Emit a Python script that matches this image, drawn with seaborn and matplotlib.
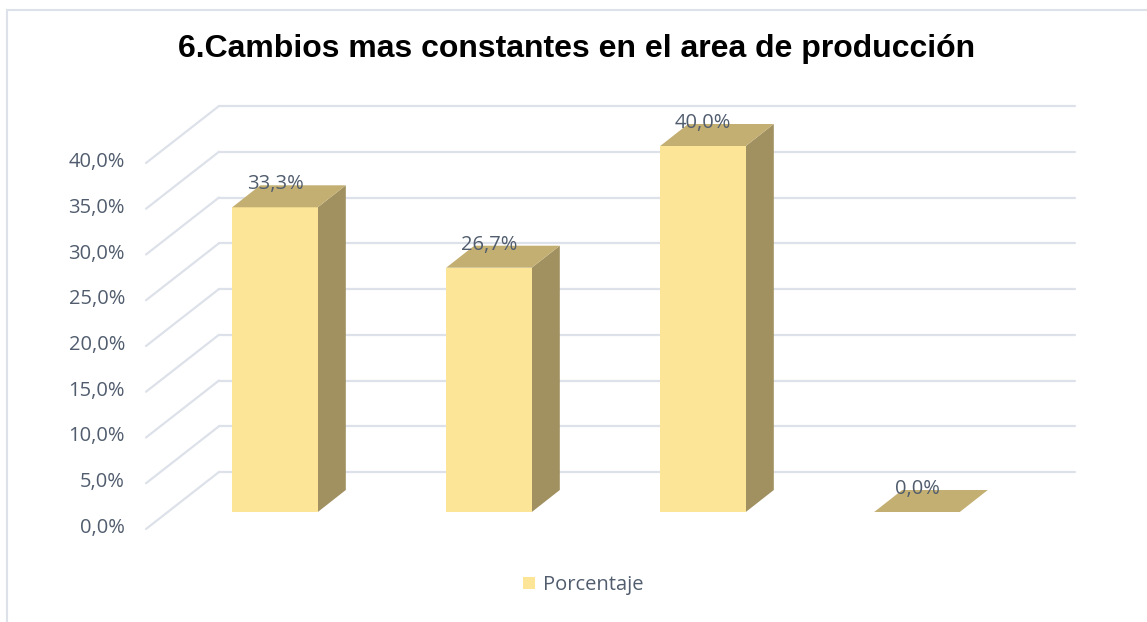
import matplotlib
matplotlib.use("Agg")
import matplotlib.pyplot as plt
import matplotlib.transforms as mtrans
from matplotlib.patches import Polygon, Patch
from matplotlib.lines import Line2D
import seaborn as sns
import pandas as pd

# ---- data ----
categories = ["A", "B", "C", "D"]
porcentaje = [0.333, 0.267, 0.400, 0.000]
value_labels = ["33,3%", "26,7%", "40,0%", "0,0%"]
ytick_values = [0.0, 0.05, 0.10, 0.15, 0.20, 0.25, 0.30, 0.35, 0.40]
ytick_labels = ["0,0%", "5,0%", "10,0%", "15,0%", "20,0%", "25,0%", "30,0%", "35,0%", "40,0%"]
title = "6.Cambios mas constantes en el area de producción"
series_name = "Porcentaje"

# ---- style ----
sns.set_theme(style="white")
plt.rcParams["font.family"] = ["Open Sans", "DejaVu Sans"]
FRONT = "#FDE598"
TOP = "#C4AF72"
SIDE = "#A19060"
GRID = "#DDE1E9"
TXT = "#515D6E"
FS = 14.5

W, H, DPI = 11.47, 6.22, 100
fig = plt.figure(figsize=(W, H), dpi=DPI)
fig.patch.set_facecolor("white")

# chart border (left + top)
fig.add_artist(Line2D([7 / 1147, 7 / 1147], [0, 1 - 10 / 622], transform=fig.transFigure, color=GRID, lw=1.5))
fig.add_artist(Line2D([7 / 1147, 1], [1 - 10 / 622, 1 - 10 / 622], transform=fig.transFigure, color=GRID, lw=1.5))

# axes = the plane where the bar front faces sit
ax = fig.add_axes([168 / 1147, (622 - 512) / 622, 856 / 1147, 366 / 622])
ax.set_facecolor("none")

df = pd.DataFrame({"cat": categories, series_name: porcentaje})
sns.barplot(data=df, x="cat", y=series_name, color=FRONT, width=0.4, ax=ax,
            saturation=1, edgecolor="none", zorder=3)
ax.set_xlim(-0.5, 3.5)
ax.set_ylim(0, 0.40)
for s in ax.spines.values():
    s.set_visible(False)
ax.set_xticks([])
ax.set_yticks([])
ax.set_xlabel("")
ax.set_ylabel("")

def px(dx, dy):
    return mtrans.ScaledTranslation(dx / DPI, dy / DPI, fig.dpi_scale_trans)

back_tr = ax.transData + px(51, 40)
front_tr = ax.transData + px(-22, -17)
x0, x1 = ax.get_xlim()

# back wall gridlines and side-wall diagonals
for v in ytick_values:
    ax.plot([x0, x1], [v, v], transform=back_tr, color=GRID, lw=1.6, zorder=1, clip_on=False)
    p_front = front_tr.transform((x0, v))
    p_back = back_tr.transform((x0, v))
    fig.add_artist(Line2D([p_front[0] / fig.bbox.width, p_back[0] / fig.bbox.width],
                          [p_front[1] / fig.bbox.height, p_back[1] / fig.bbox.height],
                          transform=fig.transFigure, color=GRID, lw=1.6, zorder=1))

# tick labels on the front plane
for v, lab in zip(ytick_values, ytick_labels):
    ax.text(x0, v, lab, transform=ax.transData + px(-43, -16), ha="right", va="center",
            fontsize=FS, color=TXT, clip_on=False)

# 3D faces of bars
to_disp = ax.transData
inv = ax.transData.inverted()
DX, DY = 28, 22
for bar, lab in zip(ax.patches, value_labels):
    bx, bw, bh = bar.get_x(), bar.get_width(), bar.get_height()
    pts = [to_disp.transform(p) for p in [(bx, bh), (bx + bw, bh), (bx + bw, 0)]]
    tl, tr, br = pts
    top_face = [tl, tr, (tr[0] + DX, tr[1] + DY), (tl[0] + DX, tl[1] + DY)]
    side_face = [br, tr, (tr[0] + DX, tr[1] + DY), (br[0] + DX, br[1] + DY)]
    ax.add_patch(Polygon([inv.transform(p) for p in side_face], closed=True, facecolor=SIDE,
                         edgecolor="none", zorder=2, clip_on=False))
    ax.add_patch(Polygon([inv.transform(p) for p in top_face], closed=True, facecolor=TOP,
                         edgecolor="none", zorder=4, clip_on=False))
    ax.text(bx + bw / 2, bh, lab, transform=ax.transData + px(0, 23), ha="center", va="center",
            fontsize=FS, color=TXT, zorder=5, clip_on=False)

# title
fig.text(577 / 1147, 1 - 49 / 622, title, ha="center", va="center", fontsize=23,
         fontweight="bold", color="black", family=["Liberation Sans", "DejaVu Sans"])

# legend
handle = Patch(facecolor=FRONT, edgecolor="none", label=series_name)
fig.legend(handles=[handle], loc="center", bbox_to_anchor=(583 / 1147, 1 - 585 / 622),
           frameon=False, fontsize=FS, labelcolor=TXT, handlelength=0.6, handleheight=0.6,
           handletextpad=0.4)

fig.savefig("out.png", dpi=DPI, facecolor="white")
